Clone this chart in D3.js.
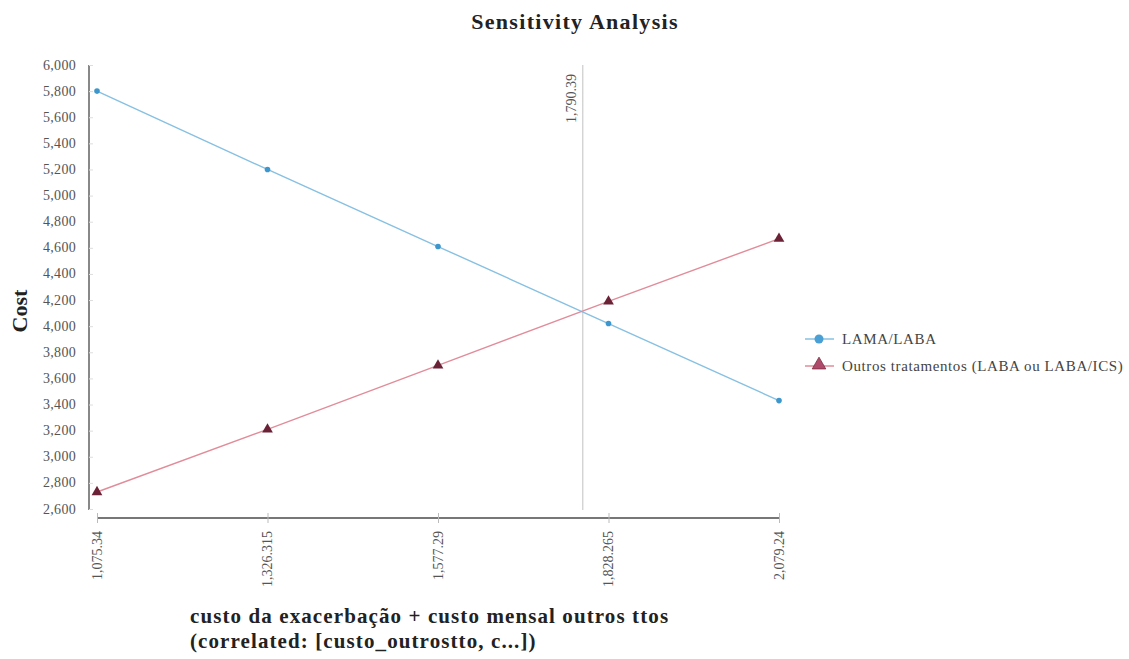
<!DOCTYPE html>
<html><head><meta charset="utf-8">
<script src="https://cdn.jsdelivr.net/npm/d3@7"></script>
<style>body{margin:0;background:#fff}svg{display:block}</style>
</head><body>
<svg id="c" width="1129" height="659"></svg>
<script>
const xValues = [1075.34, 1326.315, 1577.29, 1828.265, 2079.24];
const xTickLabels = ["1,075.34", "1,326.315", "1,577.29", "1,828.265", "2,079.24"];
const lamaLaba = [5800, 5200, 4610, 4020, 3430];
const outros = [2730, 3210, 3700, 4190, 4670];
const yTicks = [2600,2800,3000,3200,3400,3600,3800,4000,4200,4400,4600,4800,5000,5200,5400,5600,5800,6000];
const threshold = 1790.39;
const thresholdLabel = "1,790.39";
const seriesNames = ["LAMA/LABA", "Outros tratamentos (LABA ou LABA/ICS)"];

const svg = d3.select("#c");
const font = "'Liberation Serif', 'Times New Roman', serif";
const x = d3.scaleLinear().domain([1075.34, 2079.24]).range([97, 779]);
const y = d3.scaleLinear().domain([2600, 6000]).range([509, 65]);

// title
svg.append("text").attr("x", 575).attr("y", 29).attr("text-anchor", "middle")
  .attr("font-family", font).attr("font-weight", "bold").attr("font-size", 22)
  .attr("letter-spacing", 1.3).attr("fill", "#222").text("Sensitivity Analysis");

// y axis
const yAxis = svg.append("g").attr("transform", "translate(89,0)")
  .call(d3.axisRight(y).tickValues(yTicks).tickSize(4).tickFormat(() => ""));
yAxis.select(".domain").attr("stroke", "#888").attr("stroke-width", 2).attr("d", `M0,${y(6000)}V${y(2600)+1}`);
yAxis.selectAll(".tick line").attr("stroke", "#ddd");
svg.append("g").selectAll("text").data(yTicks).join("text")
  .attr("x", 76).attr("y", d => y(d) + 4.5).attr("text-anchor", "end")
  .attr("font-family", font).attr("font-size", 14).attr("letter-spacing", 0.3).attr("fill", "#555")
  .text(d => d3.format(",")(d));

// x axis
const xAxis = svg.append("g").attr("transform", "translate(0,518)")
  .call(d3.axisBottom(x).tickValues(xValues).tickSize(5).tickFormat(() => ""));
xAxis.select(".domain").attr("stroke", "#777").attr("stroke-width", 2).attr("d", `M${x(1075.34)},0H${x(2079.24)}`);
xAxis.selectAll(".tick line").attr("stroke", "#bbb").attr("y1", -5).attr("y2", 5);
svg.append("g").selectAll("text").data(xValues).join("text")
  .attr("transform", d => `translate(${x(d) + 4.5},531) rotate(-90)`)
  .attr("text-anchor", "end").attr("font-family", font).attr("font-size", 14)
  .attr("fill", "#555").text((d, i) => xTickLabels[i]);

// threshold line
svg.append("line").attr("x1", x(threshold)).attr("x2", x(threshold))
  .attr("y1", y(6000)).attr("y2", 510).attr("stroke", "#ccc").attr("stroke-width", 1.2);
svg.append("text").attr("transform", `translate(${x(threshold) - 7},74) rotate(-90)`)
  .attr("text-anchor", "end").attr("font-family", font).attr("font-size", 14)
  .attr("fill", "#555").text(thresholdLabel);

// lines
const line = d3.line().x((d, i) => x(xValues[i])).y(d => y(d));
svg.append("path").datum(lamaLaba).attr("d", line).attr("fill", "none")
  .attr("stroke", "#86c0e2").attr("stroke-width", 1.4);
svg.append("path").datum(outros).attr("d", line).attr("fill", "none")
  .attr("stroke", "#e28c9a").attr("stroke-width", 1.4);

const tri = d3.symbol().type(d3.symbolTriangle).size(50);
svg.append("g").selectAll("circle").data(lamaLaba).join("circle")
  .attr("cx", (d, i) => x(xValues[i])).attr("cy", d => y(d)).attr("r", 2.8)
  .attr("fill", "#3d97cc");
svg.append("g").selectAll("path").data(outros).join("path")
  .attr("d", tri).attr("transform", (d, i) => `translate(${x(xValues[i])},${y(d)})`)
  .attr("fill", "#6b2236");

// legend
const lg = svg.append("g");
lg.append("line").attr("x1", 805).attr("x2", 834).attr("y1", 339).attr("y2", 339).attr("stroke", "#86c0e2").attr("stroke-width", 1.5);
lg.append("circle").attr("cx", 819).attr("cy", 339).attr("r", 4.5).attr("fill", "#4a9fd5");
lg.append("text").attr("x", 842).attr("y", 344).attr("font-family", font).attr("font-size", 15).attr("letter-spacing", 0.6).attr("fill", "#444").text(seriesNames[0]);
lg.append("line").attr("x1", 805).attr("x2", 834).attr("y1", 366).attr("y2", 366).attr("stroke", "#e28c9a").attr("stroke-width", 1.5);
lg.append("path").attr("d", d3.symbol().type(d3.symbolTriangle).size(80)).attr("transform", "translate(819,365)")
  .attr("fill", "#b04a6a").attr("stroke", "#7a2a40").attr("stroke-width", 0.8);
lg.append("text").attr("x", 842).attr("y", 371).attr("font-family", font).attr("font-size", 15).attr("letter-spacing", 0.6).attr("fill", "#444").text(seriesNames[1]);

// axis titles
svg.append("text").attr("transform", "translate(27,311) rotate(-90)").attr("text-anchor", "middle")
  .attr("font-family", font).attr("font-weight", "bold").attr("font-size", 22).attr("fill", "#222").text("Cost");
svg.append("text").attr("x", 190).attr("y", 623).attr("font-family", font).attr("font-weight", "bold")
  .attr("font-size", 21).attr("letter-spacing", 1.1).attr("fill", "#222").text("custo da exacerbação + custo mensal outros ttos");
svg.append("text").attr("x", 190).attr("y", 648).attr("font-family", font).attr("font-weight", "bold")
  .attr("font-size", 21).attr("letter-spacing", 1.1).attr("fill", "#222").text("(correlated: [custo_outrostto, c...])");
</script>
</body></html>
